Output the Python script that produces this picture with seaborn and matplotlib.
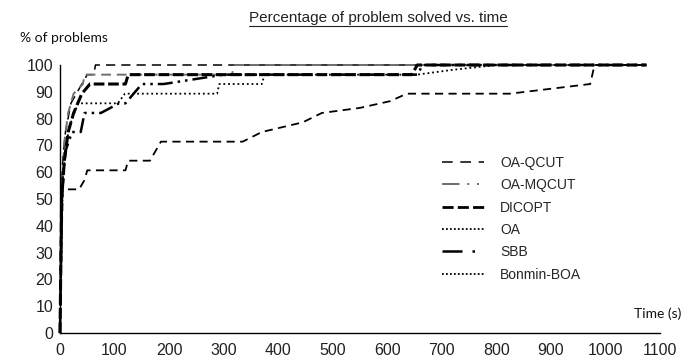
import numpy as np
import pandas as pd
import seaborn as sns
import matplotlib
matplotlib.use("Agg")
import matplotlib.pyplot as plt
from matplotlib.lines import Line2D

# ---- data (time in s, % of problems solved) ----
solvers = ["OA-QCUT", "OA-MQCUT", "DICOPT", "OA", "SBB", "Bonmin-BOA"]

qcut_t = [0, 2, 5, 10, 20, 30, 40, 50, 62, 65, 1075]
qcut_p = [0, 50, 64.3, 75, 85.7, 89.3, 92.9, 96.4, 96.4, 100, 100]

mqcut_t = [0, 3, 8, 15, 25, 42, 45, 115, 315, 320, 1075]
mqcut_p = [0, 50, 71.4, 82.1, 89.3, 92.9, 96.4, 96.4, 96.4, 100, 100]

dicopt_t = [0, 3, 8, 15, 25, 40, 55, 120, 125, 645, 655, 1075]
dicopt_p = [0, 50, 64.3, 75, 82.1, 89.3, 92.9, 92.9, 96.4, 96.4, 100, 100]

oa_t = [0, 5, 12, 20, 33, 106, 119, 288, 292, 370, 375, 655, 720, 800, 1075]
oa_p = [0, 57.1, 71.4, 78.6, 85.7, 85.7, 89.3, 89.3, 92.9, 92.9, 96.4, 96.4, 98.2, 100, 100]

sbb_t = [0, 3, 10, 22, 38, 45, 75, 108, 120, 150, 190, 300, 655, 665, 1075]
sbb_p = [0, 50, 67.9, 75, 75, 82.1, 82.1, 85.7, 85.7, 92.9, 92.9, 96.4, 96.4, 100, 100]

bonmin_t = [0, 5, 35, 45, 50, 120, 125, 165, 185, 335, 370, 445, 480, 550, 605, 636,
            825, 972, 980, 1075]
bonmin_p = [0, 53.6, 53.6, 57.1, 60.7, 60.7, 64.3, 64.3, 71.4, 71.4, 75, 78.6, 82.1,
            84, 86.5, 89.3, 89.3, 92.9, 100, 100]

x_ticks = list(range(0, 1101, 100))
y_ticks = list(range(0, 101, 10))

series_t = [qcut_t, mqcut_t, dicopt_t, oa_t, sbb_t, bonmin_t]
series_p = [qcut_p, mqcut_p, dicopt_p, oa_p, sbb_p, bonmin_p]
rows = []
for name, ts, ps in zip(solvers, series_t, series_p):
    for t, p in zip(ts, ps):
        rows.append({"solver": name, "time": t, "pct": p})
df = pd.DataFrame(rows)

# drawing styles (how each curve appears in the figure)
draw_style = {
    "OA-QCUT":    dict(color="black", lw=1.1, ls=(0, (6, 4))),
    "OA-MQCUT":   dict(color="#6e6e6e", lw=1.4, ls=(0, (5, 3))),
    "DICOPT":     dict(color="black", lw=2.2, ls=(0, (3.5, 1.2))),
    "OA":         dict(color="black", lw=1.3, ls=(0, (1, 1.6))),
    "SBB":        dict(color="black", lw=1.8, ls=(0, (6, 2, 1, 2, 1, 2))),
    "Bonmin-BOA": dict(color="black", lw=1.3, ls=(0, (4.5, 3))),
}
# legend styles (as shown in the figure's key)
legend_style = {
    "OA-QCUT":    dict(color="black", lw=1.1, ls=(0, (7, 5))),
    "OA-MQCUT":   dict(color="#6e6e6e", lw=1.4, ls=(0, (9, 4, 1, 4, 1, 4))),
    "DICOPT":     dict(color="black", lw=2.0, ls=(0, (4, 1.5))),
    "OA":         dict(color="black", lw=1.3, ls=(0, (1, 1.2))),
    "SBB":        dict(color="black", lw=1.8, ls=(0, (8, 4, 1, 4, 1, 4))),
    "Bonmin-BOA": dict(color="black", lw=1.3, ls=(0, (1, 1.2))),
}

sns.set_theme(style="white")
plt.rcParams["font.family"] = ["Liberation Sans", "DejaVu Sans"]

fig = plt.figure(figsize=(6.83, 3.61), dpi=100)
ax = fig.add_axes([60 / 683, 1 - 333 / 361, 600 / 683, 268 / 361])

for name in solvers:
    st = draw_style[name]
    sub = df[df["solver"] == name]
    sns.lineplot(data=sub, x="time", y="pct", ax=ax, sort=False, estimator=None,
                 color=st["color"], lw=st["lw"], linestyle=st["ls"], legend=False)
for ln in ax.get_lines():
    ln.set_clip_on(False)

ax.set_xlim(0, 1100)
ax.set_ylim(0, 100)
ax.set_xticks(x_ticks)
ax.set_yticks(y_ticks)
ax.set_xlabel("")
ax.set_ylabel("")
for s in ["top", "right"]:
    ax.spines[s].set_visible(False)
for s in ["left", "bottom"]:
    ax.spines[s].set_color("black")
    ax.spines[s].set_linewidth(1.0)
ax.tick_params(axis="both", direction="in", length=4, width=0.8, colors="black",
               labelsize=11.5, labelcolor="#222222")
ax.tick_params(axis="x", pad=7)
ax.tick_params(axis="y", pad=5)
ax.grid(False)

handles = [Line2D([0], [0], color=legend_style[n]["color"], lw=legend_style[n]["lw"],
                  linestyle=legend_style[n]["ls"]) for n in solvers]
leg = ax.legend(handles, solvers, loc="upper left",
                bbox_to_anchor=(442 / 683, 1 - 156 / 361), bbox_transform=fig.transFigure,
                frameon=False, fontsize=10, handlelength=3.0, handletextpad=1.2,
                labelspacing=0.6, borderpad=0, borderaxespad=0)

title = fig.text(378 / 683, 1 - 18 / 361, "Percentage of problem solved vs. time",
                 ha="center", va="center", fontsize=11,
                 family=["Liberation Sans Narrow", "Liberation Sans", "DejaVu Sans"],
                 color="#222222")
fig.text(20 / 683, 1 - 38 / 361, "% of problems", ha="left", va="center",
         fontsize=10, family=["Lato", "DejaVu Sans"], color="#111111")
fig.text(681 / 683, 1 - 314 / 361, "Time (s)", ha="right", va="center",
         fontsize=10, family=["Lato", "DejaVu Sans"], color="#111111")

# underline the title
fig.canvas.draw()
bb = title.get_window_extent()
W, H = fig.bbox.width, fig.bbox.height
fig.add_artist(Line2D([bb.x0 / W, bb.x1 / W], [(bb.y0 - 1) / H, (bb.y0 - 1) / H],
                      transform=fig.transFigure, color="#222222", lw=0.8))

fig.savefig("out.png", dpi=100)
